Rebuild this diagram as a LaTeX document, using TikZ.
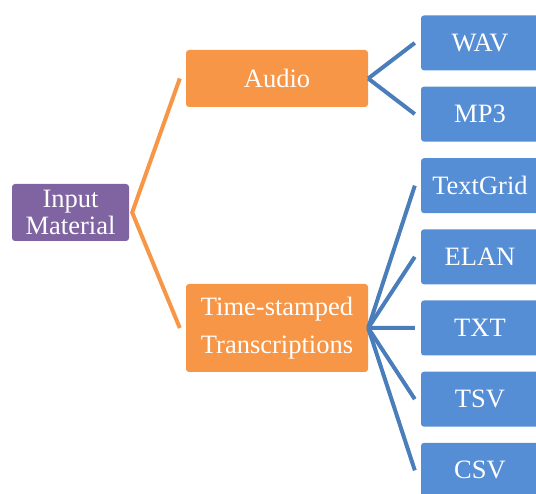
\documentclass[tikz,border=0pt]{standalone}
\usepackage{fontspec}
\setmainfont{Liberation Serif}
\usetikzlibrary{shapes}

\begin{document}
\begin{tikzpicture}[x=1pt,y=1pt,grow'=right]
				\definecolor{purpleBox}{HTML}{8064A2}
				\definecolor{orangeBox}{HTML}{F79646}
				\definecolor{blueBox}{HTML}{558ED5}
				\definecolor{blueLine}{HTML}{4A7EBB}
				\tikzstyle{box}=[rectangle,rounded corners=3pt,text=white,inner sep=0pt,align=center,font=\fontsize{26.5}{27}\selectfont]
				\tikzstyle{category}=[box,fill=orangeBox,minimum width=182pt]
				\tikzstyle{format}=[box,fill=blueBox,minimum width=118pt,minimum height=55pt]
				\tikzstyle{level 1}=[level distance=203pt,sibling distance=71.17pt]
				\tikzstyle{edge from parent}=[draw=blueLine,line width=4pt]
				\useasboundingbox (0,0) rectangle (536,494);
				\node[box,fill=purpleBox,minimum width=117pt,minimum height=57pt] (input) at (70.5,281.5) {Input\\Material};
				\node[category,minimum height=57pt] (audio) at (277,415.5) {Audio}
				[edge from parent path={(\tikzparentnode.east) -- ([xshift=-6pt]\tikzchildnode.west)}]
				child{node[format] (wav) {WAV}}
				child{node[format] (mp3) {MP3}}
				;
				\node[category,minimum height=88pt,font=\fontsize{26.5}{38}\selectfont] (trans) at (277,166) {Time-stamped\\Transcriptions}
				[edge from parent path={(\tikzparentnode.east) -- ([xshift=-6pt]\tikzchildnode.west)}]
				child{node[format] (textgrid) {TextGrid}}
				child{node[format] (elan) {ELAN}}
				child{node[format] (txt) {TXT}}
				child{node[format] (tsv) {TSV}}
				child{node[format] (csv) {CSV}}
				;
				\draw[orangeBox,line width=4pt] ([xshift=-6pt]audio.west) -- ([xshift=3pt]input.east) -- ([xshift=-6pt]trans.west);
\end{tikzpicture}
\end{document}
